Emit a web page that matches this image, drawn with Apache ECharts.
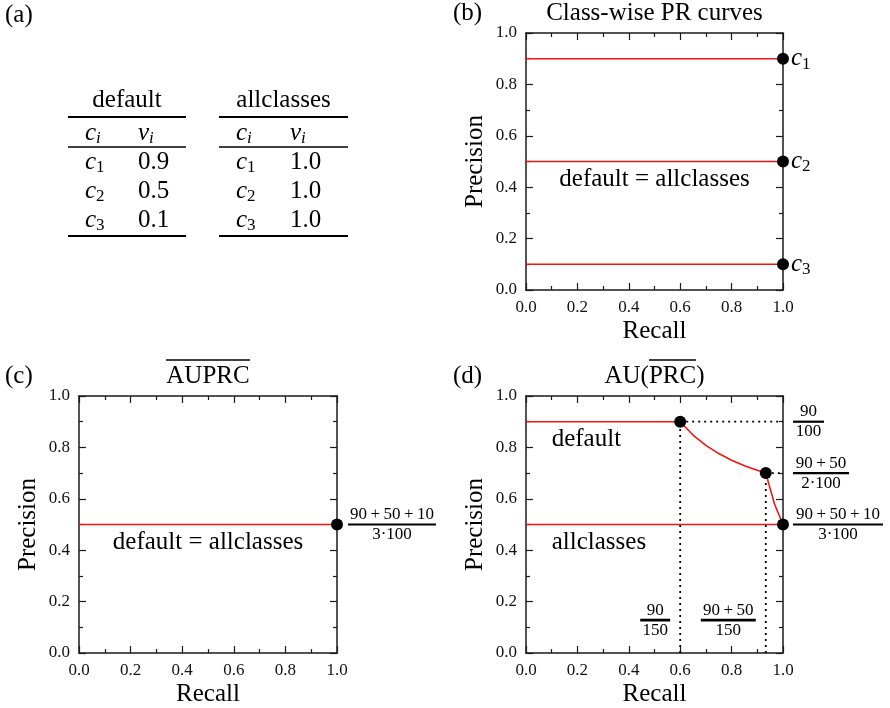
<!DOCTYPE html>
<html>
<head>
<meta charset="utf-8">
<script src="https://cdn.jsdelivr.net/npm/echarts@6/dist/echarts.min.js"></script>
<style>
  html, body { margin: 0; padding: 0; background: #fff; }
  #chart { width: 890px; height: 708px; }
</style>
</head>
<body>
<div id="chart"></div>
<script>
// ---- data ----
// (a) table
const classIndex = ['1', '2', '3']
const defaultValues = [0.9, 0.5, 0.1]
const allclassesValues = [1.0, 1.0, 1.0]

// axis tick labels (all panels)
const tickLabels = ['0.0', '0.2', '0.4', '0.6', '0.8', '1.0']

// (b) class-wise PR curves
const classPrecision = [0.9, 0.5, 0.1]
const classRecall = [0.0, 1.0]

// (c) mean of AUPRC
const meanRecall = [0.0, 1.0]
const meanPrecision = [0.5, 0.5]

// (d) AU of averaged PRC
const flatRecall = [0.0, 0.6]
const flatPrecision = [0.9, 0.9]
const curveRecall = [0.6, 0.65, 0.7, 0.75, 0.8, 0.85, 0.9, 0.933]
const curvePrecision = [0.9, 0.848, 0.808, 0.776, 0.75, 0.729, 0.711, 0.7]
const tailRecall = [0.933, 0.967, 1.0]
const tailPrecision = [0.7, 0.58, 0.5]
const stepRecall = [0.6, 0.933, 1.0]
const stepPrecision = [0.9, 0.7, 0.5]
const allclassesRecall = [0.0, 1.0]
const allclassesPrecision = [0.5, 0.5]

// fraction labels
const precisionNum = ['90', '90\u2009+\u200950', '90\u2009+\u200950\u2009+\u200910']
const precisionDen = ['100', '2\u00b7100', '3\u00b7100']
const recallNum = ['90', '90\u2009+\u200950']
const recallDen = ['150', '150']

// ---- styles ----
const FONT = "'Liberation Serif', 'Times New Roman', serif"
const INK = '#000'
const RED = '#f01414'

const zip = (xs, ys) => xs.map((x, i) => [x, ys[i]])

const axisBase = {
  type: 'value',
  min: 0,
  max: 1,
  interval: 0.2,
  axisLine: { show: true, onZero: false, lineStyle: { color: '#1a1a1a', width: 1.5 } },
  axisTick: { show: true, inside: true, length: 7, lineStyle: { color: '#1a1a1a', width: 1.2 } },
  minorTick: { show: true, splitNumber: 2, length: 4, lineStyle: { color: '#1a1a1a', width: 1.2 } },
  splitLine: { show: false },
  minorSplitLine: { show: false }
}

const tickLabel = {
  show: true,
  margin: 9,
  fontFamily: FONT,
  fontSize: 17,
  color: '#111',
  formatter: v => tickLabels[Math.round(v / 0.2)]
}

const nameStyle = { fontFamily: FONT, fontSize: 25, color: INK }

const grids = [
  { left: 526, top: 33, width: 257, height: 257 },
  { left: 79, top: 396, width: 258, height: 257 },
  { left: 526, top: 396, width: 257, height: 257 }
]

const xAxes = []
const yAxes = []
grids.forEach((g, gi) => {
  xAxes.push({ ...axisBase, gridIndex: gi, position: 'bottom', axisLabel: tickLabel,
    name: 'Recall', nameLocation: 'middle', nameGap: 29, nameTextStyle: nameStyle })
  xAxes.push({ ...axisBase, gridIndex: gi, position: 'top', axisLabel: { show: false } })
  yAxes.push({ ...axisBase, gridIndex: gi, position: 'left', axisLabel: tickLabel,
    name: 'Precision', nameLocation: 'middle', nameGap: 38, nameTextStyle: nameStyle })
  yAxes.push({ ...axisBase, gridIndex: gi, position: 'right', axisLabel: { show: false } })
})

// rich text pieces
const mathRich = {
  m: { fontFamily: FONT, fontSize: 25, fontStyle: 'italic', color: INK, lineHeight: 30 },
  sub: { fontFamily: FONT, fontSize: 17, color: INK, verticalAlign: 'top', lineHeight: 17, padding: [12, 0, 0, 0] }
}

function fracRich (barWidth, barHeight) {
  return {
    n: { fontFamily: FONT, fontSize: 17, color: INK, align: 'center', lineHeight: 15 },
    bar: { width: barWidth, height: barHeight, backgroundColor: INK, align: 'center', lineHeight: 5 },
    d: { fontFamily: FONT, fontSize: 17, color: INK, align: 'center', lineHeight: 15 }
  }
}

const fracText = (num, den) => '{n|' + num + '}\n{bar|}\n{d|' + den + '}'

// helpers for series
const onGrid = gi => ({ xAxisIndex: 2 * gi, yAxisIndex: 2 * gi })

function redLine (gi, data) {
  return {
    type: 'line', ...onGrid(gi), data, symbol: 'none',
    lineStyle: { color: RED, width: 1.6 }, silent: true, z: 3
  }
}

function dottedLine (gi, data) {
  return {
    type: 'line', ...onGrid(gi), data, symbol: 'none',
    lineStyle: { color: INK, width: 1.8, type: [2, 4] }, silent: true, z: 2
  }
}

function dots (gi, data, label) {
  return {
    type: 'scatter', ...onGrid(gi), data, symbol: 'circle', symbolSize: 12,
    itemStyle: { color: '#000', opacity: 1 },
    label: label ? { opacity: 1, textBorderWidth: 0, ...label } : { show: false },
    clip: false, silent: true, z: 5
  }
}

function note (gi, point, text, position, rich, distance) {
  return {
    type: 'scatter', ...onGrid(gi), data: [point], symbolSize: 0, clip: false, silent: true, z: 6,
    itemStyle: { opacity: 1 },
    label: {
      show: true, position, distance: distance || 0, formatter: text, opacity: 1,
      fontFamily: FONT, fontSize: 25, color: INK, textBorderWidth: 0, rich: rich || {}
    }
  }
}

const series = []

// (b)
classPrecision.forEach(p => {
  series.push(redLine(0, classRecall.map(r => [r, p])))
})
series.push(dots(0, classPrecision.map(p => [1.0, p]), {
  show: true, position: 'right', distance: 2,
  formatter: p => '{m|c}{sub|' + classIndex[p.dataIndex] + '}',
  rich: mathRich
}))
series.push(note(0, [0.5, 0.43], 'default = allclasses', 'inside'))

// (c)
series.push(redLine(1, zip(meanRecall, meanPrecision)))
series.push(dots(1, [[1.0, meanPrecision[1]]], {
  show: true, position: 'right', distance: 5,
  formatter: fracText(precisionNum[2], precisionDen[2]),
  rich: fracRich(88, 2.2)
}))
series.push(note(1, [0.5, 0.43], 'default = allclasses', 'inside'))

// (d)
const stepPoints = zip(stepRecall, stepPrecision)
series.push(dottedLine(2, [[stepRecall[0], 0], stepPoints[0]]))
series.push(dottedLine(2, [stepPoints[0], [1.0, stepPrecision[0]]]))
series.push(dottedLine(2, [[stepRecall[1], 0], stepPoints[1]]))
series.push(dottedLine(2, [stepPoints[1], [1.0, stepPrecision[1]]]))
series.push(redLine(2, zip(flatRecall, flatPrecision)))
series.push(redLine(2, zip(curveRecall, curvePrecision)))
series.push(redLine(2, zip(tailRecall, tailPrecision)))
series.push(redLine(2, zip(allclassesRecall, allclassesPrecision)))
series.push(dots(2, stepPoints))
const rightBars = [31, 56, 90]
stepPrecision.forEach((p, i) => {
  series.push(note(2, [1.0, p], fracText(precisionNum[i], precisionDen[i]), 'right',
    fracRich(rightBars[i], 2.2), 10))
})
const bottomBars = [30, 55]
recallNum.forEach((num, i) => {
  series.push(note(2, [stepRecall[i], 0.128], fracText(num, recallDen[i]), 'left',
    fracRich(bottomBars[i], 2.8), 10))
})
series.push(note(2, [0.1, 0.83], 'default', 'right'))
series.push(note(2, [0.1, 0.43], 'allclasses', 'right'))

// ---- titles, panel letters and table (a) ----
const textFont = '25px ' + FONT
const graphic = []

const plain = (x, y, text, align) => ({
  type: 'text', x, y, silent: true,
  style: { text, font: textFont, fill: INK, align: align || 'left', verticalAlign: 'middle' }
})

const mathText = (x, y, base, sub) => ({
  type: 'text', x, y, silent: true,
  style: {
    text: '{m|' + base + '}{sub|' + sub + '}', align: 'left', verticalAlign: 'middle',
    rich: {
      m: { font: 'italic 25px ' + FONT, fill: INK, lineHeight: 30 },
      sub: { font: (sub === 'i' ? 'italic ' : '') + '17px ' + FONT, fill: INK, verticalAlign: 'top', lineHeight: 17, padding: [12, 0, 0, 0] }
    }
  }
})

const rule = (x1, x2, y, w) => ({
  type: 'line', silent: true,
  shape: { x1, y1: y, x2, y2: y },
  style: { stroke: INK, lineWidth: w }
})

graphic.push(plain(5, 15, '(a)'))
graphic.push(plain(453, 13, '(b)'))
graphic.push(plain(5, 376, '(c)'))
graphic.push(plain(453, 376, '(d)'))

graphic.push(plain(654.5, 13, 'Class-wise PR curves', 'center'))
graphic.push({
  type: 'text', x: 208, y: 373, silent: true,
  style: {
    text: '{ov|}\n{t|AUPRC}', align: 'center', verticalAlign: 'middle',
    rich: {
      ov: { width: 84, height: 1.5, backgroundColor: INK, lineHeight: 6 },
      t: { font: textFont, fill: INK, lineHeight: 26 }
    }
  }
})
graphic.push({
  type: 'text', x: 654.5, y: 373, silent: true,
  style: {
    text: '{s1|}{ov|}{s2|}\n{t|AU(PRC)}', align: 'center', verticalAlign: 'middle',
    rich: {
      s1: { width: 44, height: 1.5, lineHeight: 6 },
      ov: { width: 47, height: 1.5, backgroundColor: INK, lineHeight: 6 },
      s2: { width: 8, height: 1.5, lineHeight: 6 },
      t: { font: textFont, fill: INK, lineHeight: 26 }
    }
  }
})

// table (a)
const tables = [
  { title: 'default', values: defaultValues, x1: 68, x2: 186, colC: 85, colV: 138 },
  { title: 'allclasses', values: allclassesValues, x1: 219, x2: 348, colC: 236, colV: 290 }
]
const rowY = [162, 191, 220]
tables.forEach(t => {
  graphic.push(plain((t.x1 + t.x2) / 2, 100, t.title, 'center'))
  graphic.push(rule(t.x1, t.x2, 117, 2))
  graphic.push(mathText(t.colC, 133, 'c', 'i'))
  graphic.push(mathText(t.colV, 133, 'v', 'i'))
  graphic.push(rule(t.x1, t.x2, 147, 1.4))
  t.values.forEach((v, i) => {
    graphic.push(mathText(t.colC, rowY[i], 'c', classIndex[i]))
    graphic.push(plain(t.colV, rowY[i], v.toFixed(1)))
  })
  graphic.push(rule(t.x1, t.x2, 236, 2))
})

const chart = echarts.init(document.getElementById('chart'))
chart.setOption({
  animation: false,
  backgroundColor: '#fff',
  grid: grids,
  xAxis: xAxes,
  yAxis: yAxes,
  graphic,
  series
})
</script>
</body>
</html>
